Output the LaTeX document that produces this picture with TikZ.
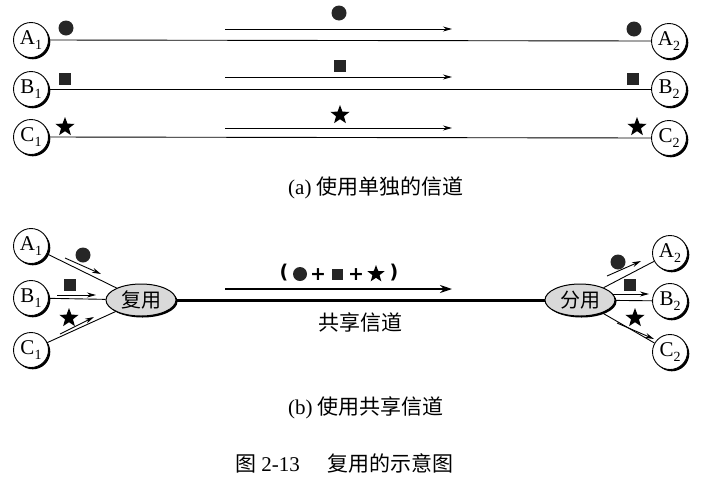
\documentclass[tikz,border=0pt]{standalone}
\usepackage{fontspec}
\setmainfont{Liberation Serif}
\newfontfamily\cjk{Noto Sans CJK SC}
\newfontfamily\plusfont{DejaVu Sans}
\usetikzlibrary{shapes.geometric,arrows.meta,shadows}
\newcommand\stlab[2]{#1\raisebox{-0.45ex}{\fontsize{14}{14}\selectfont #2}}
\begin{document}
\begin{tikzpicture}[x=1pt,y=-1pt,
  station/.style={circle,draw,line width=0.9pt,fill=white,minimum size=35pt,inner sep=0pt,
    font=\fontsize{21}{21}\selectfont,
    drop shadow={shadow xshift=1.8pt,shadow yshift=-1.8pt,fill=black,opacity=1}},
  mux/.style={ellipse,draw,line width=1pt,fill=gray!30,minimum width=70pt,minimum height=32pt,inner sep=0pt,
    font=\cjk\fontsize{20}{20}\selectfont,
    drop shadow={shadow xshift=1.5pt,shadow yshift=-1.5pt,fill=black,opacity=1}},
  dotsym/.style={circle,fill=black!85,minimum size=15pt,inner sep=0pt},
  sqsym/.style={rectangle,fill=black!85,minimum size=12.5pt,inner sep=0pt},
  starsym/.style={star,star points=5,star point ratio=2.4,fill=black,minimum size=20pt,inner sep=0pt},
  link/.style={line width=0.9pt},
  flow/.style={-{Stealth[length=9pt,width=5pt]},line width=0.9pt},
  caption/.style={font=\fontsize{21}{21}\selectfont,anchor=west,inner sep=0pt},
  plus/.style={font=\plusfont\bfseries\fontsize{19}{19}\selectfont,inner sep=0pt}
]
\useasboundingbox (0,0) rectangle (722,488);

% ---------- (a) ----------
\node[station] (A1) at (31,40) {\stlab{A}{1}};
\node[station] (B1) at (31,89) {\stlab{B}{1}};
\node[station] (C1) at (31,137) {\stlab{C}{1}};
\node[station] (A2) at (669,41) {\stlab{A}{2}};
\node[station] (B2) at (669,89) {\stlab{B}{2}};
\node[station] (C2) at (669,138) {\stlab{C}{2}};
\draw[link] (A1.east) -- (A2.west);
\draw[link] (B1.east) -- (B2.west);
\draw[link] (C1.east) -- (C2.west);

\node[dotsym] (sa1) at (66,28) {};
\node[sqsym] (sb1) at (65,79) {};
\node[starsym] (sc1) at (65,127) {};
\node[dotsym] (sa2) at (634,29) {};
\node[sqsym] (sb2) at (633,79) {};
\node[starsym] (sc2) at (637,127) {};

\node[dotsym] (sam) at (339,13) {};
\node[sqsym] (sbm) at (340,66) {};
\node[starsym] (scm) at (340,115) {};
\coordinate (fa0) at (225,29); \coordinate (fa1) at (452,29);
\coordinate (fb0) at (225,77); \coordinate (fb1) at (452,77);
\coordinate (fc0) at (225,128); \coordinate (fc1) at (452,128);
\draw[flow] (fa0) -- (fa1);
\draw[flow] (fb0) -- (fb1);
\draw[flow] (fc0) -- (fc1);

\node[caption] (capa) at (288,188) {(a) {\cjk 使用单独的信道}};

% ---------- (b) ----------
\node[station] (P1) at (31,246) {\stlab{A}{1}};
\node[station] (Q1) at (31,298) {\stlab{B}{1}};
\node[station] (R1) at (31,350) {\stlab{C}{1}};
\node[station] (P2) at (670,253) {\stlab{A}{2}};
\node[station] (Q2) at (670,301) {\stlab{B}{2}};
\node[station] (R2) at (670,352) {\stlab{C}{2}};
\node[mux] (mx) at (141,300) {复用};
\node[mux] (dx) at (580,300) {分用};

\draw[link] (P1) -- (mx);
\draw[link] (Q1) -- (mx);
\draw[link] (R1) -- (mx);
\draw[link] (dx) -- (P2);
\draw[link] (dx) -- (Q2);
\draw[link] (dx) -- (R2);
\draw[line width=3pt] (mx) -- (dx);

% left flows
\coordinate (la0) at (65,258); \coordinate (la1) at (101,274);
\coordinate (lb0) at (57,295); \coordinate (lb1) at (96,295);
\coordinate (lc0) at (60,334); \coordinate (lc1) at (94,317);
\draw[flow] (la0) -- (la1);
\draw[flow] (lb0) -- (lb1);
\draw[flow] (lc0) -- (lc1);
\node[dotsym] (la) at (83,255) {};
\node[sqsym] (lb) at (70,285) {};
\node[starsym] (lc) at (69,318) {};

% right flows
\coordinate (ra0) at (607,276); \coordinate (ra1) at (641,261);
\coordinate (rb0) at (613,294); \coordinate (rb1) at (649,294);
\coordinate (rc0) at (617,323); \coordinate (rc1) at (654,339);
\draw[flow] (ra0) -- (ra1);
\draw[flow] (rb0) -- (rb1);
\draw[flow] (rc0) -- (rc1);
\node[dotsym] (ra) at (618,262) {};
\node[sqsym] (rb) at (630,285) {};
\node[starsym] (rc) at (635,318) {};

% shared flow
\coordinate (s0) at (225,289); \coordinate (s1) at (452,289);
\draw[-{Stealth[length=12pt,width=8pt]},line width=2.6pt] (s0) -- (s1);
\node[plus] (lp) at (284,273) {(};
\node[dotsym,minimum size=14pt] (m1) at (300,274) {};
\node[plus] (p1) at (318,275) {+};
\node[sqsym,minimum size=11pt] (m2) at (337,274) {};
\node[plus] (p2) at (356,275) {+};
\node[starsym,minimum size=18pt] (m3) at (376,274) {};
\node[plus] (rp) at (394,273) {)};
\node[font=\cjk\fontsize{21}{21}\selectfont] (shared) at (360,322) {共享信道};

\node[caption] (capb) at (288,408) {(b) {\cjk 使用共享信道}};
\node[caption] (capf) at (235,463) {{\cjk 图} 2-13\hspace{1.3em}{\cjk 复用的示意图}};
\end{tikzpicture}
\end{document}
